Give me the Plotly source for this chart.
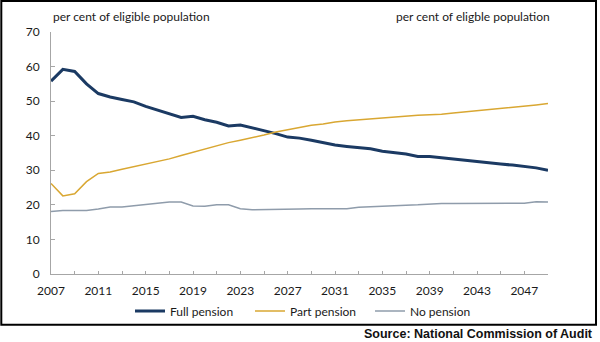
import plotly.graph_objects as go

years = list(range(2007, 2050))
full_pension = [55.8, 59.2, 58.6, 55.0, 52.2, 51.2, 50.5, 49.8, 48.5, 47.4,
                46.3, 45.3, 45.6, 44.6, 43.9, 42.8, 43.1, 42.3, 41.6, 40.6,
                39.6, 39.3, 38.7, 38.0, 37.3, 36.9, 36.6, 36.2, 35.5, 35.1,
                34.7, 34.0, 34.0, 33.6, 33.2, 32.9, 32.5, 32.2, 31.8, 31.5,
                31.1, 30.7, 30.0]
part_pension = [26.2, 22.6, 23.2, 26.7, 29.1, 29.5, 30.3, 31.0, 31.8, 32.6,
                33.3, 34.3, 35.2, 36.3, 37.1, 38.0, 38.7, 39.4, 40.2, 41.1,
                41.8, 42.4, 43.0, 43.4, 44.0, 44.3, 44.6, 44.8, 45.0, 45.3,
                45.6, 45.9, 46.1, 46.2, 46.6, 46.9, 47.4, 47.6, 47.9, 48.2,
                48.6, 48.9, 49.3]
no_pension = [18.1, 18.4, 18.4, 18.4, 18.8, 19.4, 19.4, 19.7, 20.0, 20.4,
              20.8, 20.8, 19.7, 19.6, 20.0, 20.0, 18.9, 18.6, 18.6, 18.6,
              18.6, 18.8, 18.9, 18.9, 18.9, 18.9, 19.3, 19.5, 19.7, 19.7,
              19.9, 20.0, 20.3, 20.4, 20.4, 20.4, 20.4, 20.4, 20.4, 20.4,
              20.5, 20.9, 20.8]
x_tick_labels = [str(y) for y in range(2007, 2048, 4)]
y_ticks = [0, 10, 20, 30, 40, 50, 60, 70]

FONT = "Lato, 'DejaVu Sans', sans-serif"
AXIS_COLOR = "#a6a6a6"
TEXT_COLOR = "#1a1a1a"

fig = go.Figure()
fig.add_trace(go.Scatter(x=years, y=full_pension, mode="lines", name="Full pension",
                         line=dict(color="#1b3a63", width=3)))
fig.add_trace(go.Scatter(x=years, y=part_pension, mode="lines", name="Part pension",
                         line=dict(color="#d9a732", width=1.5)))
fig.add_trace(go.Scatter(x=years, y=no_pension, mode="lines", name="No pension",
                         line=dict(color="#8f9cab", width=1.5)))

fig.update_layout(
    width=600, height=342,
    margin=dict(l=51, r=52, t=32, b=68),
    paper_bgcolor="white", plot_bgcolor="white",
    font=dict(family=FONT, size=12, color=TEXT_COLOR),
    showlegend=True,
    legend=dict(orientation="h", x=(130 - 51) / 497, xanchor="left", y=-0.153, yanchor="middle",
                font=dict(size=12, color=TEXT_COLOR), bgcolor="rgba(0,0,0,0)",
                itemwidth=30, tracegroupgap=0, entrywidth=75, entrywidthmode="pixels"),
    xaxis=dict(range=[2007, 2049], tickvals=[int(t) for t in x_tick_labels],
               ticktext=x_tick_labels, showgrid=False, zeroline=False,
               showline=True, linecolor=AXIS_COLOR, linewidth=1,
               ticks="inside", ticklen=3, tickcolor=AXIS_COLOR,
               minor=dict(tick0=2007, dtick=2, ticks="inside", ticklen=3,
                          tickcolor=AXIS_COLOR, showgrid=False),
               tickfont=dict(size=12, color=TEXT_COLOR), ticklabelstandoff=6,
               fixedrange=True),
    yaxis=dict(range=[0, 70], tickvals=y_ticks, showgrid=False, zeroline=False,
               showline=True, linecolor=AXIS_COLOR, linewidth=1,
               ticks="inside", ticklen=4, tickcolor=AXIS_COLOR,
               tickfont=dict(size=12, color=TEXT_COLOR), ticklabelstandoff=8),
    yaxis2=dict(range=[0, 70], tickvals=y_ticks, overlaying="y", side="right",
                showgrid=False, zeroline=False,
                showline=True, linecolor=AXIS_COLOR, linewidth=1,
                ticks="inside", ticklen=4, tickcolor=AXIS_COLOR,
                tickfont=dict(size=12, color=TEXT_COLOR), ticklabelstandoff=8),
)

fig.add_annotation(text="per cent of eligible population", xref="paper", yref="paper",
                   x=0.0, y=1.063, xanchor="left", yanchor="middle", showarrow=False,
                   font=dict(size=12, color=TEXT_COLOR))
fig.add_annotation(text="per cent of eligble population", xref="paper", yref="paper",
                   x=1.008, y=1.063, xanchor="right", yanchor="middle", showarrow=False,
                   font=dict(size=12, color=TEXT_COLOR))
fig.add_annotation(text="<b>Source: National Commission of Audit</b>", xref="paper", yref="paper",
                   x=(595 - 51) / 497, y=-0.2467, xanchor="right", yanchor="middle", showarrow=False,
                   font=dict(family="'Liberation Sans', Arial, sans-serif", size=12.5, color="#111"))

fig.add_shape(type="rect", xref="paper", yref="paper",
              x0=-0.1, x1=1.0966, y0=-0.2095, y1=1.128,
              line=dict(color="black", width=2), fillcolor="rgba(0,0,0,0)", layer="below")

fig.write_html("out.html")
